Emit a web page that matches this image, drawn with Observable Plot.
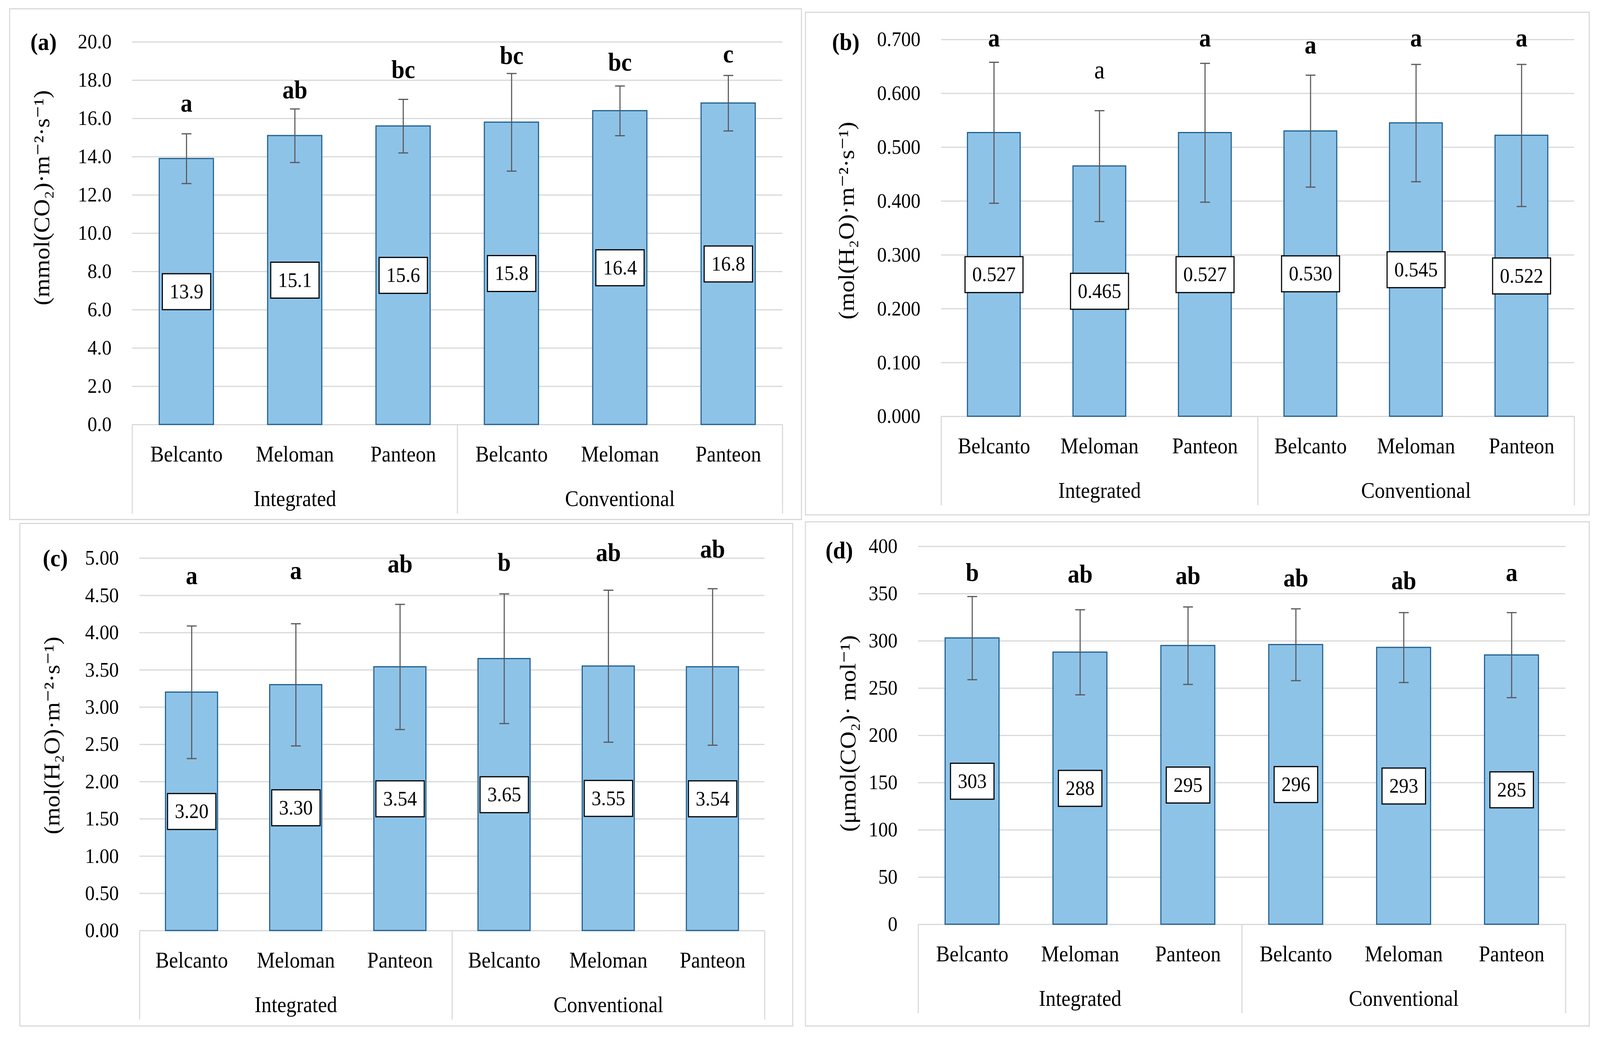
<!DOCTYPE html>
<html>
<head>
<meta charset="utf-8">
<script src="https://cdn.jsdelivr.net/npm/d3@7"></script>
<script src="https://cdn.jsdelivr.net/npm/@observablehq/plot@0.6"></script>
<style>
html, body { margin: 0; padding: 0; background: #fff; overflow: hidden; }
#wrap { position: relative; overflow: hidden; background: #fff; }
#page { position: absolute; left: 0; top: 0; width: 4395px; height: 2666px; overflow: hidden; background: #fff; transform-origin: 0 0; }
.panel { position: absolute; outline: 3px solid #d9d9d9; outline-offset: -3px; }
.panel svg { display: block; max-width: none !important; }
</style>
</head>
<body>
<div id="wrap"><div id="page"></div></div>
<script>
// ---------- data ----------
const systems = ["Integrated", "Conventional"];
const varieties = ["Belcanto", "Meloman", "Panteon"];

// (a) net photosynthesis
const meanA = [13.9, 15.1, 15.6, 15.8, 16.4, 16.8];
const sdA = [1.3, 1.4, 1.4, 2.55, 1.3, 1.45];
const lettersA = ["a", "ab", "bc", "bc", "bc", "c"];
const letterAtA = [16.35, 17.05, 18.12, 18.84, 18.49, 18.92];
const ticksA = [0, 2, 4, 6, 8, 10, 12, 14, 16, 18, 20];

// (b) stomatal conductance
const meanB = [0.527, 0.465, 0.527, 0.530, 0.545, 0.522];
const sdB = [0.131, 0.103, 0.129, 0.104, 0.109, 0.132];
const lettersB = ["a", "a", "a", "a", "a", "a"];
const letterAtB = [0.687, 0.628, 0.687, 0.674, 0.687, 0.687];
const ticksB = [0, 0.1, 0.2, 0.3, 0.4, 0.5, 0.6, 0.7];

// (c) transpiration
const meanC = [3.20, 3.30, 3.54, 3.65, 3.55, 3.54];
const sdC = [0.89, 0.82, 0.84, 0.87, 1.02, 1.05];
const lettersC = ["a", "a", "ab", "b", "ab", "ab"];
const letterAtC = [4.65, 4.72, 4.81, 4.83, 4.96, 5.01];
const ticksC = [0, 0.5, 1, 1.5, 2, 2.5, 3, 3.5, 4, 4.5, 5];

// (d) intercellular CO2
const meanD = [303, 288, 295, 296, 293, 285];
const sdD = [44, 45, 41, 38, 37, 45];
const lettersD = ["b", "ab", "ab", "ab", "ab", "a"];
const letterAtD = [363.6, 361.8, 360, 357.6, 354.8, 363.6];
const ticksD = [0, 50, 100, 150, 200, 250, 300, 350, 400];

// ---------- style / layout ----------
const FONT = "'Liberation Serif', 'DejaVu Serif', serif";
const GRID = "#d9d9d9";
const BAR_FILL = "#8ec3e8";
const BAR_STROKE = "#1f5f8f";
const ERR = "#595959";

const panels = [
  { tag: "(a)", title: "(mmol(CO\u2082)\u00b7m\u207b\u00b2\u00b7s\u207b\u00b9)",
    mean: meanA, sd: sdA, letters: lettersA, letterAt: letterAtA, ticks: ticksA, plain: [],
    fmt: d3.format(".1f"),
    left: 25, top: 21, width: 2178, height: 1311, mL: 338, mR: 54, mT: 86, mB: 245,
    titleDx: -228, titleDy: -91, tagDx: -280, tagDy: 1 },
  { tag: "(b)", title: "(mol(H\u2082O)\u00b7m\u207b\u00b2\u00b7s\u207b\u00b9)",
    mean: meanB, sd: sdB, letters: lettersB, letterAt: letterAtB, ticks: ticksB, plain: [1],
    fmt: d3.format(".3f"),
    left: 2211, top: 30, width: 2156, height: 1290, mL: 374, mR: 43, mT: 71, mB: 254,
    titleDx: -240, titleDy: -19, tagDx: -300, tagDy: 7 },
  { tag: "(c)", title: "(mol(H\u2082O)\u00b7m\u207b\u00b2\u00b7s\u207b\u00b9)",
    mean: meanC, sd: sdC, letters: lettersC, letterAt: letterAtC, ticks: ticksC, plain: [],
    fmt: d3.format(".2f"),
    left: 53, top: 1339, width: 2126, height: 1290, mL: 330, mR: 79, mT: 90, mB: 246,
    titleDx: -220, titleDy: -23, tagDx: -266, tagDy: 1 },
  { tag: "(d)", title: "(\u03bcmol(CO\u2082)\u00b7 mol\u207b\u00b9)",
    mean: meanD, sd: sdD, letters: lettersD, letterAt: letterAtD, ticks: ticksD, plain: [],
    fmt: d3.format("d"),
    left: 2211, top: 1335, width: 2156, height: 1294, mL: 311, mR: 67, mT: 64, mB: 262,
    titleDx: -173, titleDy: -5, tagDx: -255, tagDy: 11 }
];

const measure = document.createElement("canvas").getContext("2d");
measure.font = "53px 'Liberation Serif'";
const page = document.getElementById("page");

for (const cfg of panels) {
  const rows = cfg.mean.map((v, i) => ({
    i, v, sd: cfg.sd[i],
    variety: varieties[i % varieties.length],
    system: systems[Math.floor(i / varieties.length)],
    letter: cfg.letters[i], ly: cfg.letterAt[i],
    label: cfg.fmt(v), plain: cfg.plain.includes(i)
  }));
  const groups = systems.map((s, g) => ({ s, x: g * varieties.length + (varieties.length - 1) / 2 }));
  const seps = d3.range(0, rows.length + 1, varieties.length).map(k => k - 0.5);
  const plotH = cfg.height - cfg.mT - cfg.mB;
  const tw = d3.max(rows, d => measure.measureText(d.label).width);
  const bw = tw + 40, bh = 92;
  const boxSymbol = { draw(c) { c.rect(-bw / 2, -bh / 2, bw, bh); } };
  const capSymbol = { draw(c) { c.moveTo(-13.5, 0); c.lineTo(13.5, 0); } };

  const chart = Plot.plot({
    width: cfg.width, height: cfg.height,
    marginLeft: cfg.mL, marginRight: cfg.mR, marginTop: cfg.mT, marginBottom: cfg.mB,
    style: { fontFamily: FONT, fontSize: "53px", color: "black", background: "transparent" },
    x: { type: "linear", domain: [-0.5, rows.length - 0.5] },
    y: { domain: [0, cfg.ticks[cfg.ticks.length - 1]] },
    marks: [
      Plot.gridY({ ticks: cfg.ticks, stroke: GRID, strokeOpacity: 1, strokeWidth: 3 }),
      Plot.ruleX(seps, { x: d => d, stroke: GRID, strokeWidth: 3, insetTop: plotH, insetBottom: -228 }),
      Plot.axisY({ ticks: cfg.ticks, tickFormat: cfg.fmt, tickSize: 0, tickPadding: 57, fontSize: 53, fill: "black", label: null }),
      Plot.axisX({ ticks: rows.map(d => d.i), tickFormat: i => rows[i].variety, tickSize: 0, tickPadding: 55, fontSize: 56, fill: "black", label: null }),
      Plot.text(groups, { x: "x", text: "s", frameAnchor: "bottom", lineAnchor: "bottom", dy: 208, fontSize: 56, fill: "black" }),
      Plot.rectY(rows, { x1: d => d.i - 0.25, x2: d => d.i + 0.25, y: "v", fill: BAR_FILL, stroke: BAR_STROKE, strokeWidth: 3 }),
      Plot.ruleX(rows, { x: "i", y1: d => d.v - d.sd, y2: d => d.v + d.sd, stroke: ERR, strokeWidth: 3 }),
      Plot.dot(rows, { x: "i", y: d => d.v + d.sd, symbol: capSymbol, r: 5, fill: "none", stroke: ERR, strokeWidth: 3 }),
      Plot.dot(rows, { x: "i", y: d => d.v - d.sd, symbol: capSymbol, r: 5, fill: "none", stroke: ERR, strokeWidth: 3 }),
      Plot.dot(rows, { x: "i", y: d => d.v / 2, symbol: boxSymbol, r: 10, fill: "white", stroke: "black", strokeWidth: 3 }),
      Plot.text(rows, { x: "i", y: d => d.v / 2, text: "label", fontSize: 53, lineAnchor: "middle", fill: "black" }),
      Plot.text(rows.filter(d => !d.plain), { x: "i", y: "ly", text: "letter", fontSize: 65, fontWeight: "bold", lineAnchor: "bottom", fill: "black" }),
      Plot.text(rows.filter(d => d.plain), { x: "i", y: "ly", text: "letter", fontSize: 65, fontWeight: "normal", lineAnchor: "bottom", fill: "black" }),
      Plot.text([cfg.title], { text: d => d, frameAnchor: "left", rotate: -90, textAnchor: "middle", lineAnchor: "bottom", dx: cfg.titleDx, dy: cfg.titleDy, fontSize: 62, fill: "black" }),
      Plot.text([cfg.tag], { text: d => d, frameAnchor: "top-left", textAnchor: "start", lineAnchor: "middle", dx: cfg.tagDx, dy: cfg.tagDy, fontSize: 62, fontWeight: "bold", fill: "black" })
    ]
  });

  const div = document.createElement("div");
  div.className = "panel";
  div.style.left = cfg.left + "px";
  div.style.top = cfg.top + "px";
  div.style.width = cfg.width + "px";
  div.style.height = cfg.height + "px";
  div.appendChild(chart);
  page.appendChild(div);
}

// The browser may open a narrower viewport than 4395px; map the 4395x2666 design onto it.
function fit() {
  const vw = document.documentElement.clientWidth || window.innerWidth || 4395;
  const vh = document.documentElement.clientHeight || window.innerHeight || 2666;
  const sx = vw / 4395, sy = vh / 2666;
  const wrap = document.getElementById("wrap");
  wrap.style.width = vw + "px";
  wrap.style.height = vh + "px";
  page.style.transform = (sx === 1 && sy === 1) ? "none" : `scale(${sx}, ${sy})`;
}
fit();
window.addEventListener("resize", fit);
</script>
</body>
</html>
